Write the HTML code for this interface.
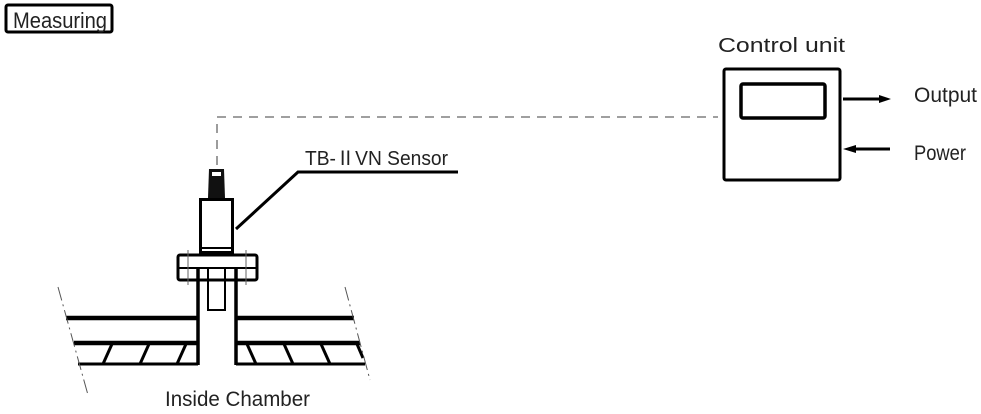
<!DOCTYPE html>
<html><head><meta charset="utf-8"><style>body{margin:0;background:#fff}svg{display:block}text{font-family:"Liberation Sans","Noto Sans CJK JP",sans-serif;fill:#222}</style></head>
<body>
<svg width="981" height="414" viewBox="0 0 981 414" xmlns="http://www.w3.org/2000/svg">
<rect x="6" y="5" width="106" height="27" fill="none" stroke="#000" stroke-width="3" rx="2"/>
<text x="13" y="28" font-size="22" textLength="94" lengthAdjust="spacingAndGlyphs">Measuring</text>
<path d="M217,165 V117 H718" fill="none" stroke="#666" stroke-width="1.3" stroke-dasharray="9,7"/>
<text x="718" y="52" font-size="20" textLength="127" lengthAdjust="spacingAndGlyphs">Control unit</text>
<rect x="724" y="69" width="116" height="111" fill="none" stroke="#000" stroke-width="3" rx="2"/>
<rect x="741" y="84" width="84" height="34" fill="none" stroke="#000" stroke-width="3.5" rx="2"/>
<line x1="843" y1="99" x2="880" y2="99" stroke="#000" stroke-width="3"/>
<polygon points="879,95 891,99 879,103" fill="#000"/>
<line x1="855" y1="149" x2="890" y2="149" stroke="#000" stroke-width="3"/>
<polygon points="856,145 843,149 856,153" fill="#000"/>
<text x="914" y="102" font-size="21" textLength="63" lengthAdjust="spacingAndGlyphs">Output</text>
<text x="914" y="160" font-size="21" textLength="52" lengthAdjust="spacingAndGlyphs">Power</text>
<text x="305" y="165" font-size="20" textLength="143" lengthAdjust="spacingAndGlyphs">TB-ⅡVN Sensor</text>
<path d="M236,229 L298,172 H458" fill="none" stroke="#000" stroke-width="3"/>
<path d="M209,169 H224 L225,198 H208 Z" fill="#111"/>
<rect x="212" y="172" width="9" height="4" fill="#fff"/>
<rect x="200.5" y="199.5" width="32" height="53" fill="none" stroke="#000" stroke-width="3"/>
<line x1="201" y1="248" x2="232" y2="248" stroke="#000" stroke-width="2"/>
<rect x="178" y="255" width="79" height="25" fill="none" stroke="#000" stroke-width="3" rx="2"/>
<line x1="178" y1="268" x2="257" y2="268" stroke="#000" stroke-width="2"/>
<line x1="188" y1="250" x2="188" y2="285" stroke="#666" stroke-width="1"/>
<line x1="246" y1="250" x2="246" y2="285" stroke="#666" stroke-width="1"/>
<rect x="208" y="268" width="17" height="42" fill="none" stroke="#000" stroke-width="2"/>
<line x1="198" y1="268" x2="198" y2="365" stroke="#000" stroke-width="3.5"/>
<line x1="236" y1="268" x2="236" y2="365" stroke="#000" stroke-width="3.5"/>
<g stroke="#000" fill="none">
<line x1="66" y1="318" x2="198" y2="318" stroke-width="4.5"/>
<line x1="236" y1="318" x2="354" y2="318" stroke-width="4.5"/>
<line x1="74" y1="343" x2="198" y2="343" stroke-width="4.5"/>
<line x1="236" y1="343" x2="360" y2="343" stroke-width="4.5"/>
<line x1="78" y1="364" x2="198" y2="364" stroke-width="3"/>
<line x1="236" y1="364" x2="365" y2="364" stroke-width="3"/>
<g stroke-width="3">
<line x1="112" y1="344" x2="103" y2="364"/><line x1="149" y1="344" x2="140" y2="364"/><line x1="186" y1="344" x2="177" y2="364"/>
<line x1="247" y1="344" x2="256" y2="364"/><line x1="284" y1="344" x2="293" y2="364"/><line x1="321" y1="344" x2="330" y2="364"/><line x1="357" y1="344" x2="363" y2="358"/>
</g>
<line x1="58" y1="287" x2="88" y2="395" stroke="#555" stroke-width="1" stroke-dasharray="14,4,2,4"/>
<line x1="345" y1="287" x2="370" y2="380" stroke="#555" stroke-width="1" stroke-dasharray="14,4,2,4"/>
</g>
<text x="165" y="406" font-size="21" textLength="145" lengthAdjust="spacingAndGlyphs">Inside Chamber</text>
</svg>
</body></html>
